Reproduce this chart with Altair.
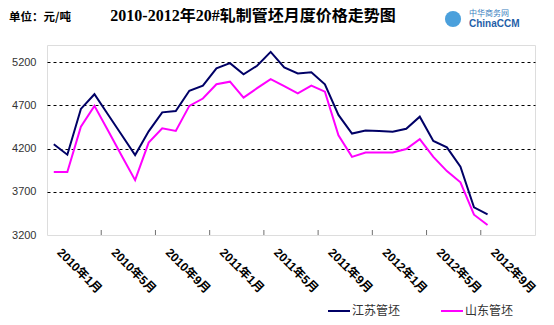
import altair as alt
import pandas as pd

# ---- data ----
months = [f"{y}年{m}月" for y in (2010, 2011, 2012) for m in range(1, 13)][:33]
jiangsu = [4250, 4130, 4660, 4830, 4595, 4360, 4125, 4400, 4620, 4635, 4870, 4930,
           5130, 5190, 5060, 5160, 5320, 5140, 5070, 5085, 4945, 4590, 4375, 4410,
           4405, 4395, 4430, 4570, 4290, 4215, 3990, 3520, 3440]
shandong = [3930, 3930, 4455, 4695, 4410, 4120, 3835, 4270, 4435, 4405, 4695, 4780,
            4945, 4975, 4790, 4900, 5005, 4925, 4840, 4930, 4860, 4355, 4105, 4155,
            4155, 4155, 4195, 4310, 4105, 3940, 3810, 3435, 3315]
series_names = ["江苏管坯", "山东管坯"]
series_colors = ["#000066", "#ff00ff"]
tick_labels = ["2010年1月", "2010年5月", "2010年9月", "2011年1月", "2011年5月",
               "2011年9月", "2012年1月", "2012年5月", "2012年9月"]
y_ticks = [3200, 3700, 4200, 4700, 5200]
n_categories = 36

rows = []
for i, m in enumerate(months):
    rows.append({"idx": i, "month": m, "series": series_names[0], "value": jiangsu[i]})
    rows.append({"idx": i, "month": m, "series": series_names[1], "value": shandong[i]})
df = pd.DataFrame(rows)

label_positions = [4 * k for k in range(len(tick_labels))]
boundaries = pd.DataFrame({"idx": [4 * k - 0.5 for k in range(1, 9)]})

W, H = 488, 190

label_expr = "[" + ",".join(f"'{s}'" for s in tick_labels) + "][round(datum.value/4)]"

x_enc = alt.X(
    "idx:Q",
    scale=alt.Scale(domain=[-0.5, n_categories - 0.5], nice=False, zero=False),
    axis=alt.Axis(
        values=label_positions, labelExpr=label_expr, ticks=False, domain=False,
        grid=False, labelAngle=45, labelAlign="left", labelBaseline="middle",
        labelPadding=15, labelOffset=5, labelFontWeight="bold", labelFontSize=12,
        labelFont="Liberation Sans, Noto Sans CJK SC", labelColor="black",
        title=None, labelOverlap=False, labelBound=False, labelFlush=False,
    ),
)
y_enc = alt.Y(
    "value:Q",
    scale=alt.Scale(domain=[3200, 5400], nice=False, zero=False),
    axis=alt.Axis(
        values=y_ticks, format="d", grid=True, gridDash=[3, 3], gridColor="black", gridWidth=1,
        gridOpacity={"condition": {"test": "datum.value === 3200", "value": 0}, "value": 1},
        ticks=False, domain=False, labelPadding=11, labelFontSize=11,
        labelFont="Liberation Sans", labelColor="#333", title=None,
    ),
)

lines = alt.Chart(df).mark_line(strokeWidth=2).encode(
    x=x_enc,
    y=y_enc,
    color=alt.Color(
        "series:N",
        scale=alt.Scale(domain=series_names, range=series_colors),
        legend=alt.Legend(
            title=None, orient="none", legendX=280, legendY=254,
            direction="horizontal", symbolType="stroke", symbolSize=484,
            symbolStrokeWidth=2, labelFontSize=12, labelFont="Noto Sans CJK SC",
            labelColor="#333", columnPadding=36, labelOffset=1, padding=0,
        ),
    ),
    detail="series:N",
)

ticks = alt.Chart(boundaries).mark_rule(color="#707070", strokeWidth=1).encode(
    x=x_enc, y=alt.value(H - 5), y2=alt.value(H)
)

one = pd.DataFrame({"k": [0]})
title = alt.Chart(one).mark_text(
    text="2010-2012年20#轧制管坯月度价格走势图", font="Liberation Serif, Noto Sans CJK SC",
    fontSize=16, fontWeight="bold", align="center", baseline="alphabetic", color="black",
).encode(x=alt.value(206), y=alt.value(-24))
unit = alt.Chart(one).mark_text(
    text="单位：元/吨", font="Noto Sans CJK SC", fontSize=11.5, fontWeight="bold",
    align="left", baseline="alphabetic", color="black",
).encode(x=alt.value(-38), y=alt.value(-24))
logo_icon = alt.Chart(one).mark_point(
    filled=True, size=260, color="#2b8fd6", shape="circle", opacity=0.85
).encode(x=alt.value(406), y=alt.value(-26))
logo_cn = alt.Chart(one).mark_text(
    text="中华商务网", font="Noto Sans CJK SC", fontSize=8, align="left",
    baseline="middle", color="#3a7fc0",
).encode(x=alt.value(422), y=alt.value(-31))
logo_en = alt.Chart(one).mark_text(
    text="ChinaCCM", font="Liberation Sans", fontSize=10, fontWeight="bold",
    align="left", baseline="middle", color="#1f5fa8",
).encode(x=alt.value(422), y=alt.value(-21))

chart = alt.layer(lines, ticks, title, unit, logo_icon, logo_cn, logo_en).properties(
    width=W, height=H,
    autosize=alt.AutoSizeParams(type="none"),
    padding={"left": 39, "top": 37, "right": 8, "bottom": 82},
).configure_view(stroke="#707070", strokeWidth=1.5).configure(background="white")

chart.save("out.html", embed_options={"renderer": "svg", "actions": False})
